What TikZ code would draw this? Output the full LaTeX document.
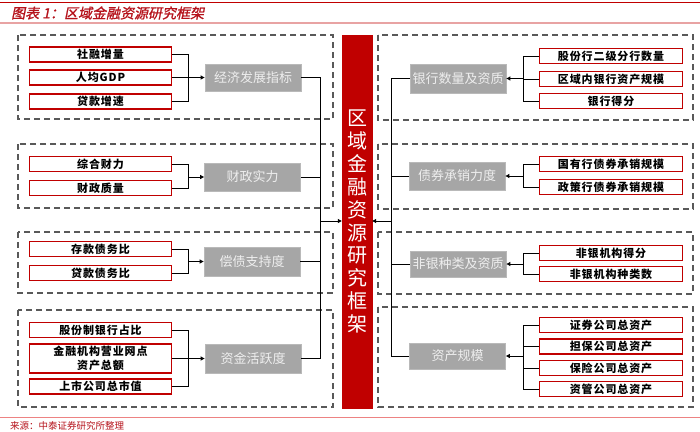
\documentclass[tikz,border=0pt]{standalone}
\usepackage{fontspec}
\setmainfont{Noto Sans CJK SC}
\newfontfamily\titlefont{Noto Sans CJK SC}[FakeSlant=0.2,FakeBold=1.2]
\newfontfamily\boxfont{Noto Sans CJK SC}[LetterSpace=8]
\usetikzlibrary{arrows.meta}
\definecolor{dred}{HTML}{C00000}
\definecolor{tred}{HTML}{B5121B}
\definecolor{dashgray}{HTML}{595959}
\definecolor{gbox}{HTML}{A6A6A6}
\definecolor{gtext}{HTML}{EEEEEE}
\definecolor{pinkline}{HTML}{E8A3A3}
\tikzset{
  redbox/.style={draw=dred, line width=1.4pt, fill=white, inner sep=0pt, align=center,
    font=\boxfont\fontsize{11}{13}\selectfont\bfseries},
  lrb/.style={redbox, minimum width=142pt, minimum height=15pt},
  rrb/.style={redbox, minimum width=143pt, minimum height=15pt},
  graybox/.style={draw=gray!55, line width=0.8pt, fill=gbox, text=gtext, inner sep=0pt,
    minimum width=96pt, font=\fontsize{13}{15}\selectfont},
  dbox/.style={draw=dashgray, line width=1.3pt, dash pattern=on 6pt off 4pt},
  conn/.style={line width=1pt, draw=black},
  arr/.style={conn, -{Triangle[length=4pt,width=4pt]}},
  centerbox/.style={fill=dred, draw=dred, text=white, inner sep=0pt, align=center,
    font=\fontsize{20}{22.9}\selectfont}
}
\begin{document}
\begin{tikzpicture}[x=1pt,y=-1pt]
\useasboundingbox (0,0) rectangle (700,431);
% header and footer
\draw[dred, line width=1.8pt] (0,2.5) -- (700,2.5);
\draw[pinkline, line width=1.2pt] (0,23) -- (700,23);
\node[anchor=west, text=tred, font=\titlefont\fontsize{14}{16}\selectfont, inner sep=0pt] (title) at (11,13) {图表 1：区域金融资源研究框架};
\draw[pinkline!80!red, line width=0.8pt] (0,417) -- (700,417);
\node[anchor=west, text=tred, font=\fontsize{9.5}{11}\selectfont, inner sep=0pt] (src) at (10,425.5) {来源：中泰证券研究所整理};

% dashed groups
\draw[dbox] (18,35) rectangle (333,119);
\draw[dbox] (18,144) rectangle (333,208);
\draw[dbox] (18,232) rectangle (333,293);
\draw[dbox] (18,310) rectangle (333,407);
\draw[dbox] (378,35) rectangle (693,120);
\draw[dbox] (378,144) rectangle (693,209);
\draw[dbox] (378,232) rectangle (693,294);
\draw[dbox] (378,307) rectangle (693,407);

% center
\node[centerbox, minimum width=30pt, minimum height=373pt] (c) at (357,221.5)
  {区\\域\\金\\融\\资\\源\\研\\究\\框\\架};

% left side
\node[lrb] (a1) at (100.5,54.5) {社融增量};
\node[lrb] (a2) at (100.5,77.5) {人均GDP};
\node[lrb] (a3) at (100.5,101.5) {贷款增速};
\node[graybox, minimum height=27pt] (g1) at (253,77.5) {经济发展指标};
\node[lrb] (b1) at (100.5,164) {综合财力};
\node[lrb] (b2) at (100.5,188) {财政质量};
\node[graybox, minimum height=28pt] (g2) at (252.5,177) {财政实力};
\node[lrb] (c1) at (100.5,249) {存款债务比};
\node[lrb] (c2) at (100.5,273) {贷款债务比};
\node[graybox, minimum height=29pt] (g3) at (252,261.5) {偿债支持度};
\node[lrb] (d1) at (100.5,330) {股份制银行占比};
\node[lrb, minimum height=29pt, font=\boxfont\fontsize{11}{14}\selectfont\bfseries] (d2) at (100.5,358.5) {金融机构营业网点\\资产总额};
\node[lrb] (d3) at (100.5,386.5) {上市公司总市值};
\node[graybox, minimum height=29pt] (g4) at (253,358.5) {资金活跃度};

\coordinate (j1) at (188,77.5);
\coordinate (j2) at (188,177);
\coordinate (j3) at (188,261.5);
\coordinate (j4) at (188,358.5);
\foreach \n in {a1,a2,a3} \draw[conn] (\n.east) -| (j1);
\foreach \n in {b1,b2} \draw[conn] (\n.east) -| (j2);
\foreach \n in {c1,c2} \draw[conn] (\n.east) -| (j3);
\foreach \n in {d1,d2,d3} \draw[conn] (\n.east) -| (j4);
\draw[arr] (j1) -- (g1.west);
\draw[arr] (j2) -- (g2.west);
\draw[arr] (j3) -- (g3.west);
\draw[arr] (j4) -- (g4.west);

\coordinate (ml) at (320,221);
\foreach \n in {g1,g2,g3,g4} \draw[conn] (\n.east) -| (ml);
\draw[arr] (ml) -- (c.west |- ml);

% right side
\node[rrb] (e1) at (611,56) {股份行二级分行数量};
\node[rrb] (e2) at (611,79) {区域内银行资产规模};
\node[rrb] (e3) at (611,101) {银行得分};
\node[graybox, minimum height=29pt] (h1) at (458,78.5) {银行数量及资质};
\node[rrb] (f1) at (611,164) {国有行债券承销规模};
\node[rrb] (f2) at (611,187) {政策行债券承销规模};
\node[graybox, minimum height=28pt] (h2) at (457,176) {债券承销力度};
\node[rrb] (k1) at (611,253) {非银机构得分};
\node[rrb] (k2) at (611,274) {非银机构种类数};
\node[graybox, minimum height=26pt] (h3) at (458,264) {非银种类及资质};
\node[rrb] (m1) at (611,325) {证券公司总资产};
\node[rrb] (m2) at (611,346.5) {担保公司总资产};
\node[rrb] (m3) at (611,368) {保险公司总资产};
\node[rrb] (m4) at (611,389) {资管公司总资产};
\node[graybox, minimum height=26pt] (h4) at (457.5,356) {资产规模};

\coordinate (q1) at (523,78.5);
\coordinate (q2) at (523,176);
\coordinate (q3) at (523,264);
\coordinate (q4) at (523,356);
\foreach \n in {e1,e2,e3} \draw[conn] (\n.west) -| (q1);
\foreach \n in {f1,f2} \draw[conn] (\n.west) -| (q2);
\foreach \n in {k1,k2} \draw[conn] (\n.west) -| (q3);
\foreach \n in {m1,m2,m3,m4} \draw[conn] (\n.west) -| (q4);
\draw[arr] (q1) -- (h1.east);
\draw[arr] (q2) -- (h2.east);
\draw[arr] (q3) -- (h3.east);
\draw[arr] (q4) -- (h4.east);

\coordinate (mr) at (391,221);
\foreach \n in {h1,h2,h3,h4} \draw[conn] (\n.west) -| (mr);
\draw[arr] (mr) -- (c.east |- mr);
\end{tikzpicture}
\end{document}
